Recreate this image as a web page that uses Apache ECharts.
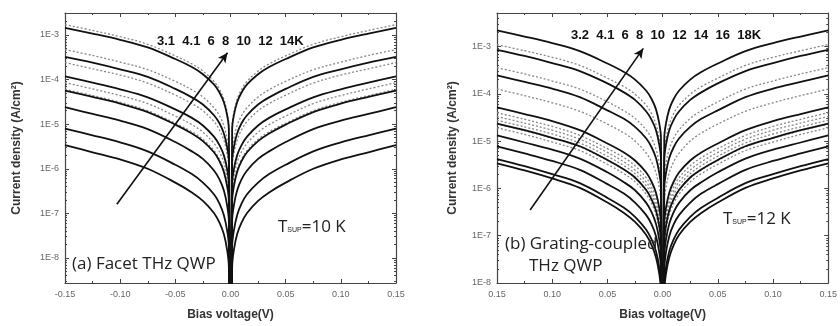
<!DOCTYPE html>
<html><head><meta charset="utf-8">
<script src="https://cdn.jsdelivr.net/npm/echarts@6/dist/echarts.min.js"></script>
<style>html,body{margin:0;padding:0;background:#fff}#c{width:840px;height:326px}</style>
</head><body><div id="c"></div>
<script>
// |V| sample points (V), curves given as log10(J) at these |V|, curves are symmetric in V
const V_ABS = [0.15, 0.125, 0.1, 0.075, 0.05, 0.035, 0.025, 0.015, 0.01, 0.006, 0.003, 0.0015];
const LOG_AT_ZERO = -12; // J -> 0 at V = 0 (below axis)

// Panel (a) Facet THz QWP – model (solid) curves, log10 J
const a_fit_3p1 = [-5.47, -5.63, -5.79, -6.00, -6.31, -6.53, -6.72, -6.99, -7.21, -7.47, -7.83, -8.19];
const a_fit_4p1 = [-5.10, -5.25, -5.41, -5.61, -5.91, -6.12, -6.31, -6.57, -6.78, -7.04, -7.39, -7.73];
const a_fit_6   = [-4.62, -4.77, -4.92, -5.11, -5.40, -5.61, -5.78, -6.04, -6.24, -6.49, -6.83, -7.16];
const a_fit_8   = [-4.25, -4.39, -4.54, -4.73, -5.01, -5.21, -5.38, -5.63, -5.83, -6.07, -6.40, -6.72];
const a_fit_10  = [-3.93, -4.07, -4.22, -4.40, -4.67, -4.86, -5.03, -5.28, -5.47, -5.70, -6.02, -6.34];
const a_fit_12  = [-3.49, -3.62, -3.77, -3.94, -4.21, -4.40, -4.56, -4.80, -4.98, -5.21, -5.52, -5.83];
const a_fit_14  = [-2.84, -2.97, -3.11, -3.28, -3.54, -3.72, -3.88, -4.11, -4.29, -4.51, -4.81, -5.11];
// Panel (a) measured (dotted) curves
const a_exp_1 = [-4.22, -4.36, -4.51, -4.70, -4.98, -5.17, -5.34, -5.59, -5.79, -6.02, -6.35, -6.67];
const a_exp_2 = [-4.07, -4.21, -4.36, -4.54, -4.82, -5.01, -5.18, -5.43, -5.62, -5.86, -6.18, -6.50];
const a_exp_3 = [-3.62, -3.76, -3.90, -4.08, -4.35, -4.54, -4.70, -4.94, -5.13, -5.36, -5.67, -5.98];
const a_exp_4 = [-3.33, -3.46, -3.61, -3.78, -4.04, -4.23, -4.39, -4.63, -4.81, -5.03, -5.34, -5.65];
const a_exp_5 = [-2.77, -2.90, -3.04, -3.21, -3.47, -3.65, -3.81, -4.04, -4.22, -4.44, -4.74, -5.04];

// Panel (b) Grating-coupled THz QWP – model (solid) curves
const b_fit_3p2 = [-5.47, -5.62, -5.79, -5.99, -6.30, -6.52, -6.71, -6.98, -7.20, -7.46, -7.81, -8.17];
const b_fit_4p1 = [-5.38, -5.53, -5.70, -5.89, -6.20, -6.41, -6.60, -6.87, -7.08, -7.33, -7.68, -8.04];
const b_fit_6   = [-5.11, -5.26, -5.42, -5.61, -5.91, -6.11, -6.30, -6.56, -6.76, -7.01, -7.36, -7.70];
const b_fit_8   = [-4.88, -5.03, -5.18, -5.37, -5.66, -5.87, -6.04, -6.30, -6.50, -6.75, -7.09, -7.42];
const b_fit_10  = [-4.63, -4.77, -4.93, -5.11, -5.40, -5.60, -5.77, -6.03, -6.23, -6.47, -6.80, -7.13];
const b_fit_12  = [-4.29, -4.43, -4.58, -4.77, -5.05, -5.24, -5.41, -5.66, -5.86, -6.09, -6.42, -6.74];
const b_fit_14  = [-3.61, -3.75, -3.89, -4.07, -4.35, -4.53, -4.70, -4.94, -5.13, -5.36, -5.68, -5.99];
const b_fit_16  = [-3.07, -3.20, -3.35, -3.52, -3.78, -3.97, -4.13, -4.37, -4.55, -4.77, -5.08, -5.39];
const b_fit_18  = [-2.66, -2.79, -2.93, -3.10, -3.36, -3.54, -3.70, -3.93, -4.11, -4.33, -4.63, -4.93];
// Panel (b) measured (dotted) curves
const b_exp_1 = [-4.72, -4.86, -5.02, -5.20, -5.49, -5.69, -5.86, -6.12, -6.32, -6.56, -6.89, -7.22];
const b_exp_2 = [-4.64, -4.78, -4.94, -5.12, -5.41, -5.61, -5.78, -6.04, -6.24, -6.48, -6.81, -7.14];
const b_exp_3 = [-4.56, -4.70, -4.85, -5.04, -5.32, -5.52, -5.69, -5.94, -6.14, -6.38, -6.71, -7.03];
const b_exp_4 = [-4.48, -4.62, -4.77, -4.96, -5.24, -5.44, -5.61, -5.86, -6.06, -6.30, -6.63, -6.95];
const b_exp_5 = [-4.40, -4.54, -4.69, -4.88, -5.16, -5.35, -5.52, -5.77, -5.97, -6.20, -6.53, -6.85];
const b_exp_6 = [-3.90, -4.04, -4.19, -4.37, -4.64, -4.83, -5.00, -5.25, -5.44, -5.67, -5.99, -6.31];
const b_exp_7 = [-3.45, -3.58, -3.73, -3.90, -4.17, -4.36, -4.52, -4.76, -4.94, -5.17, -5.48, -5.79];
const b_exp_8 = [-2.96, -3.09, -3.23, -3.40, -3.67, -3.85, -4.01, -4.24, -4.42, -4.65, -4.95, -5.25];

// axis ranges
const X_MIN = -0.15, X_MAX = 0.15, X_STEP = 0.05;
const A_Y_MIN = 2.75e-9, A_Y_MAX = 3.1e-3;
const B_Y_MIN = 1e-8, B_Y_MAX = 5.1e-3;

// Annotation texts
const A_TEMPS = '3.1  4.1  6  8  10  12  14K';
const B_TEMPS = '3.2  4.1  6  8  10  12  14  16  18K';
// arrow endpoints in data coords [V, J]
const A_ARROW = [[-0.103, 1.6e-7], [-0.0027, 4.0e-4]];
const B_ARROW = [[-0.120, 3.5e-7], [-0.0175, 9.1e-4]];

function full(half) {
  const pts = [];
  for (let i = 0; i < V_ABS.length; i++) pts.push([-V_ABS[i], Math.pow(10, half[i])]);
  pts.push([0, Math.pow(10, LOG_AT_ZERO)]);
  for (let i = V_ABS.length - 1; i >= 0; i--) pts.push([V_ABS[i], Math.pow(10, half[i])]);
  return pts;
}

const axisCol = '#444';
const labelStyle = {color: '#666', fontSize: 9, fontFamily: 'Liberation Sans'};
function yFmt(v) {
  const e = Math.log10(v);
  if (Math.abs(e - Math.round(e)) > 1e-6) return '';
  return '1E' + Math.round(e);
}
function xAxes(grid, absLabels) {
  const base = {
    gridIndex: grid, type: 'value', min: X_MIN, max: X_MAX, interval: X_STEP,
    axisLine: {onZero: false, lineStyle: {color: axisCol, width: 1.2}},
    axisTick: {inside: true, length: 4, lineStyle: {color: axisCol}},
    minorTick: {show: true, splitNumber: 2, length: 2, lineStyle: {color: axisCol}},
    splitLine: {show: false}
  };
  return [
    Object.assign({}, base, {position: 'bottom',
      name: 'Bias voltage(V)', nameLocation: 'middle', nameGap: 26,
      nameTextStyle: {fontFamily: 'Liberation Sans', fontWeight: 'bold', fontSize: 12, color: '#333'},
      axisLabel: Object.assign({}, labelStyle, {margin: 7, formatter: v => (absLabels ? Math.abs(v) : v).toFixed(2)})}),
    Object.assign({}, base, {position: 'top', axisLabel: {show: false}})
  ];
}
function yAxes(grid, min, max, gap) {
  const base = {
    gridIndex: grid, type: 'log', logBase: 10, min: min, max: max,
    axisLine: {show: true, onZero: false, lineStyle: {color: axisCol, width: 1.2}},
    axisTick: {inside: true, length: 4, lineStyle: {color: axisCol}},
    minorTick: {show: true, splitNumber: 9, length: 2, lineStyle: {color: axisCol}},
    splitLine: {show: false}
  };
  return [
    Object.assign({}, base, {position: 'left',
      name: 'Current density (A/cm²)', nameLocation: 'middle', nameGap: gap, nameRotate: 90,
      nameTextStyle: {fontFamily: 'Liberation Sans', fontWeight: 'bold', fontSize: 12, color: '#333'},
      axisLabel: Object.assign({}, labelStyle, {margin: 6, formatter: yFmt})}),
    Object.assign({}, base, {position: 'right', axisLabel: {show: false}})
  ];
}

function fitSeries(half, xi, yi, extra) {
  return Object.assign({
    type: 'line', xAxisIndex: xi, yAxisIndex: yi, data: full(half), showSymbol: false,
    smooth: 0.35, clip: true, silent: true,
    lineStyle: {color: '#111', width: 1.8}, z: 3
  }, extra || {});
}
function expSeries(half, xi, yi) {
  return {
    type: 'line', xAxisIndex: xi, yAxisIndex: yi, data: full(half), showSymbol: false,
    smooth: 0.35, clip: true, silent: true,
    lineStyle: {color: '#888', width: 1.3, type: [2, 2]}, z: 2
  };
}
function arrow(pts) {
  return {
    silent: true, symbol: ['none', 'arrow'], symbolSize: [7, 10],
    label: {show: false}, lineStyle: {color: '#111', width: 1.6, type: 'solid'},
    data: [[{coord: pts[0]}, {coord: pts[1]}]]
  };
}

const aFits = [a_fit_3p1, a_fit_4p1, a_fit_6, a_fit_8, a_fit_10, a_fit_12, a_fit_14];
const aExps = [a_exp_1, a_exp_2, a_exp_3, a_exp_4, a_exp_5];
const bFits = [b_fit_3p2, b_fit_4p1, b_fit_6, b_fit_8, b_fit_10, b_fit_12, b_fit_14, b_fit_16, b_fit_18];
const bExps = [b_exp_1, b_exp_2, b_exp_3, b_exp_4, b_exp_5, b_exp_6, b_exp_7, b_exp_8];

const series = [];
aExps.forEach(h => series.push(expSeries(h, 0, 0)));
aFits.forEach((h, i) => series.push(fitSeries(h, 0, 0, i === 0 ? {markLine: arrow(A_ARROW)} : null)));
bExps.forEach(h => series.push(expSeries(h, 2, 2)));
bFits.forEach((h, i) => series.push(fitSeries(h, 2, 2, i === 0 ? {markLine: arrow(B_ARROW)} : null)));

const bigFont = 'Open Sans';
const option = {
  backgroundColor: '#fff',
  animation: false,
  grid: [
    {left: 65, right: 444, top: 13, bottom: 40},
    {left: 497, right: 2, top: 13, bottom: 40}
  ],
  xAxis: xAxes(0, false).concat(xAxes(1, true)),
  yAxis: yAxes(0, A_Y_MIN, A_Y_MAX, 42).concat(yAxes(1, B_Y_MIN, B_Y_MAX, 38)),
  series: series,
  graphic: [
    {type: 'text', left: 157, top: 35, z: 10, style: {text: A_TEMPS, font: 'bold 13px "Liberation Sans"', fill: '#111'}},
    {type: 'text', left: 571, top: 29, z: 10, style: {text: B_TEMPS, font: 'bold 13px "Liberation Sans"', fill: '#111'}},
    {type: 'text', left: 72, top: 256, z: 10, style: {text: '(a) Facet THz QWP', font: '17px "Open Sans"', fill: '#222'}},
    {type: 'text', left: 505, top: 236, z: 10, style: {text: '(b) Grating-coupled', font: '17px "Open Sans"', fill: '#222'}},
    {type: 'text', left: 529, top: 258, z: 10, style: {text: 'THz QWP', font: '17px "Open Sans"', fill: '#222'}},
    {type: 'text', left: 278, top: 219, z: 10, style: {
      text: '{t|T}{s|SUP}{t|=10 K}', rich: {t: {fontSize: 17, fontFamily: bigFont, fill: '#222'}, s: {fontSize: 7, fontFamily: 'Liberation Sans', fill: '#222', padding: [6, 0, 0, 0]}}}},
    {type: 'text', left: 723, top: 211, z: 10, style: {
      text: '{t|T}{s|SUP}{t|=12 K}', rich: {t: {fontSize: 17, fontFamily: bigFont, fill: '#222'}, s: {fontSize: 7, fontFamily: 'Liberation Sans', fill: '#222', padding: [6, 0, 0, 0]}}}}
  ]
};
const chart = echarts.init(document.getElementById('c'), null, {renderer: 'canvas'});
chart.setOption(option);
</script></body></html>
